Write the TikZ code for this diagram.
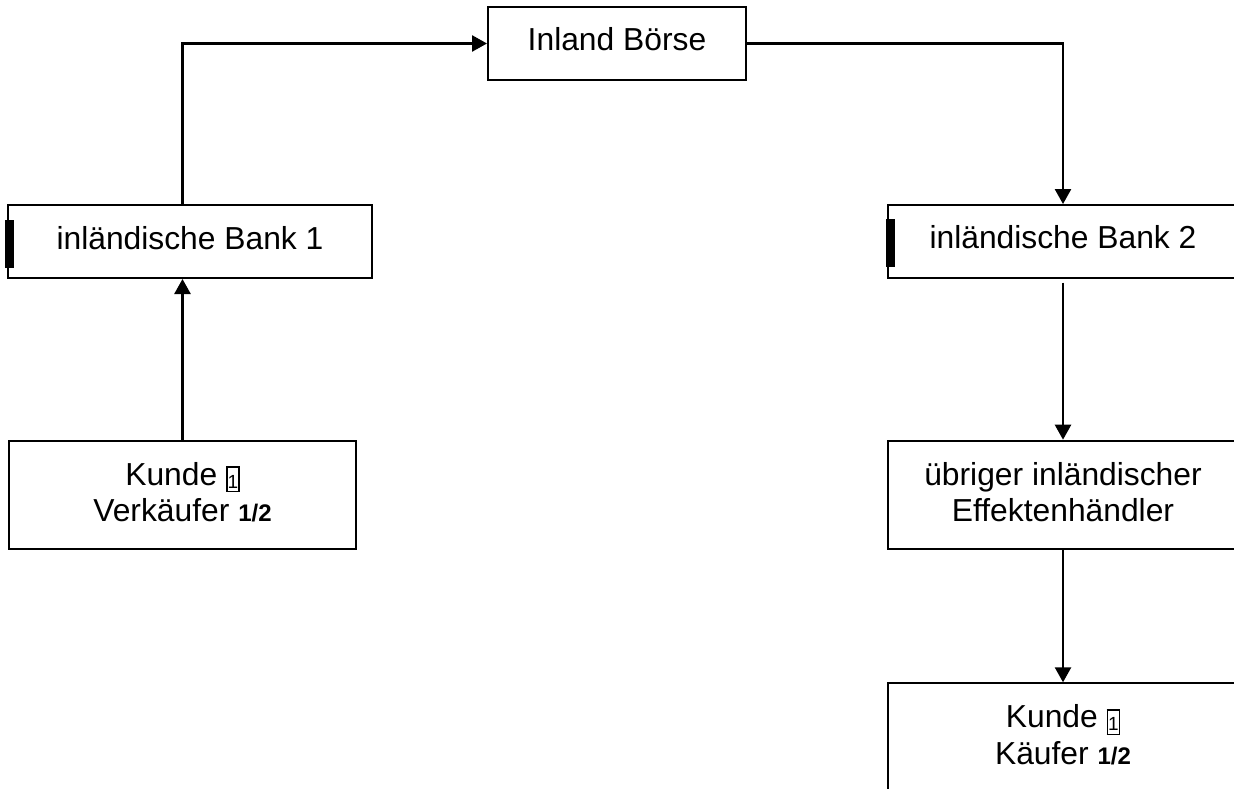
\documentclass[tikz,border=0pt]{standalone}
\usepackage{fontspec}
\setmainfont{Liberation Sans}
\usetikzlibrary{arrows.meta}
\newcommand\boxedone{\raisebox{-5.7pt}{\setlength\fboxsep{0pt}\setlength\fboxrule{1.5pt}\fbox{\makebox[10.5pt]{\rule{0pt}{23pt}\raisebox{2.6pt}{\fontsize{19}{19}\selectfont 1}}}}}
\newcommand\half{{\fontsize{24}{24}\selectfont\bfseries 1/2}}
\tikzset{
  box/.style={draw=black, line width=2pt, rectangle, inner sep=0pt, align=center,
    font=\fontsize{31.8}{36.6}\selectfont},
  onebox/.style={box, text height=23pt, text depth=8pt},
  twobox/.style={box, text depth=6pt, minimum height=108.6pt},
  conn/.style={line width=2.5pt, draw=black},
  arr/.style={conn, -{Triangle[length=15pt,width=16pt]}},
  bar/.style={fill=black}
}
\begin{document}
\begin{tikzpicture}[x=1pt,y=-1pt]
\fill[white] (0,0) rectangle (1234,789);
\useasboundingbox (0,0) rectangle (1234,789);
\clip (0,0) rectangle (1234,789);

\node[onebox, minimum width=258pt, minimum height=73pt] (borse) at (617,43.5) {Inland Börse};
\node[onebox, minimum width=364pt, minimum height=73pt] (bank1) at (190,241.5) {inländische Bank 1};
\node[onebox, minimum width=350pt, minimum height=72.5pt] (bank2) at (1063,241.3) {inländische Bank 2};
\node[twobox, minimum width=347pt] (kunde1) at (182.5,495) {Kunde \boxedone\\Verkäufer \half};
\node[twobox, minimum width=350pt] (ueb) at (1063,495) {übriger inländischer\\Effektenhändler};
\node[twobox, minimum width=350pt] (kunde2) at (1063,737.6) {Kunde \boxedone\\Käufer \half};

\fill[bar, shift={(bank1.west)}] (-2,-22) rectangle (7,26.5);
\fill[bar, shift={(bank2.west)}] (-1,-22) rectangle (7.5,26);

\draw[arr] (kunde1.north) -- (kunde1.north |- bank1.south);
\draw[arr] (kunde1.north |- bank1.north) |- (borse.west);
\draw[arr] (borse.east) -| (bank2.north);
\draw[arr, shorten <=4pt] (bank2.south) -- (ueb.north);
\draw[arr] (ueb.south) -- (kunde2.north);
\end{tikzpicture}
\end{document}
